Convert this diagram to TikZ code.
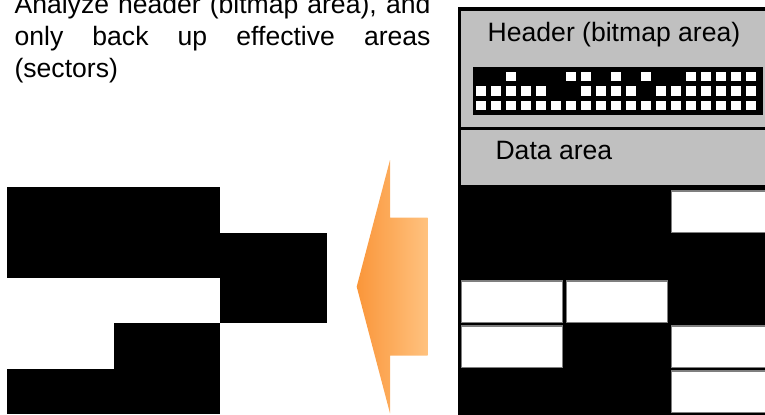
\documentclass[tikz,border=0pt]{standalone}
\usepackage{fontspec}
\setsansfont{Liberation Sans}
\definecolor{chead}{HTML}{C0C0C0}
\definecolor{cedge}{HTML}{7F7F7F}
\definecolor{corange}{HTML}{FA963A}
\definecolor{clight}{HTML}{FFC27F}
\tikzset{
  every picture/.style={font=\sffamily, line width=0.8pt},
  txt/.style={font=\sffamily\fontsize{18.9}{22.8}\selectfont, inner sep=0pt},
  panel/.style={draw=black, line width=2.2pt},
  usedcell/.style={fill=black},
  freecell/.style={fill=white, draw=cedge, line width=0.8pt},
  bitcell/.style={fill=white},
}
% 0 = sector in use, 1 = free sector (row/columns)
\def\sectormap{0/{0,0,1}, 1/{0,0,0}, 2/{1,1,0}, 3/{1,0,1}, 4/{0,0,1}}

\begin{document}
\begin{tikzpicture}
  \clip (0,0) rectangle (19.125,-10.35);
  % note text
  \node[txt, anchor=base west, text width=10.4cm, align=justify] (note) at (0.35,-0.3375)
    {\tolerance=10000 \hbadness=10000 \hyphenpenalty=10000 \exhyphenpenalty=10000
     Analyze header (bitmap area), and only back up effective areas (sectors)\par};

  % disk on the right
  \draw[panel, fill=chead] (11.4875,-0.225) rectangle (19.6,-3.2125);
  \draw[panel, fill=chead] (11.4875,-3.2125) rectangle (19.6,-4.675);
  \fill[black] (11.44,-4.675) rectangle (19.6,-10.5);
  \node[txt, anchor=base] (hdr) at (15.35,-1.0425) {Header (bitmap area)};
  \node[txt, anchor=base west] (data) at (12.375,-3.98) {Data area};

  % bitmap
  \fill[black] (11.82,-1.68) rectangle (19.075,-2.875);
  \foreach \r/\bits in {0/{0,0,1,0,0,0,1,1,0,1,0,1,0,0,1,1,1,1,1},
                        1/{1,1,1,1,1,0,0,1,1,1,1,0,1,1,1,1,1,1,1},
                        2/{1,1,1,1,1,1,1,1,1,1,1,1,1,1,1,1,1,1,1}}
    \foreach \b [count=\c from 0] in \bits {
      \ifnum\b=1
        \fill[bitcell] ({12.02+0.3755*\c-0.12},{-1.905-0.37*\r+0.115}) rectangle ++(0.24,-0.23);
      \fi
    }

  % sectors of the disk
  \foreach \r/\bits in \sectormap
    \foreach \b [count=\c from 0] in \bits {
      \ifnum\b=1
        \draw[freecell] ({11.5425+2.625*\c},{-4.775-1.125*\r}) rectangle ++(2.53,-1.033);
      \else
        % backed up copy on the left
        \fill[usedcell] ({0.1825+2.6625*\c},{-4.6825-1.1335*\r}) rectangle ++(2.6625,-1.1335);
      \fi
    }

  % arrow
  \shade[left color=corange, right color=clight] (8.9175,-7.1675) -- (9.75,-4.0) -- (9.75,-5.4425)
    -- (10.6925,-5.4425) -- (10.6925,-8.8925) -- (9.75,-8.8925) -- (9.75,-10.3325) -- cycle;
\end{tikzpicture}
\end{document}
